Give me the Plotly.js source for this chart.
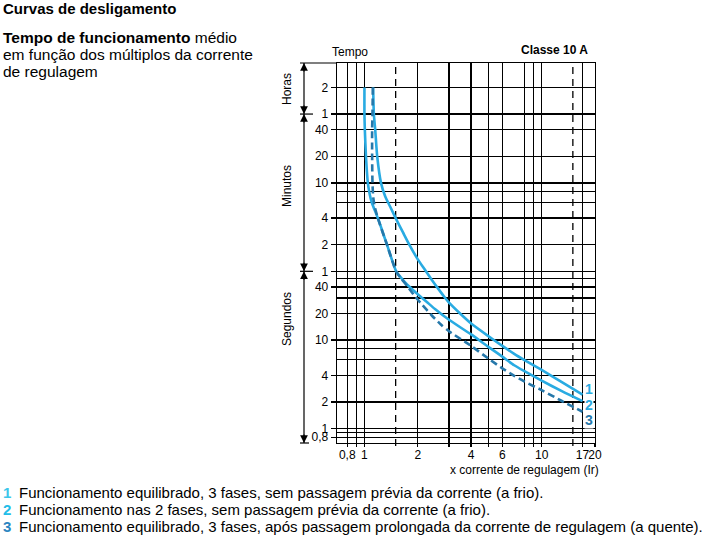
<html>
<head>
<script src="https://cdn.plot.ly/plotly-3.0.1.min.js"></script>
</head>
<body style="margin:0; background:#fff">
<div id="chart" style="width:719px; height:545px"></div>
<script>
// Curve 1: balanced, 3 phases, cold (multiple of Ir, time in seconds)
var x1 = [1.12, 1.13, 1.15, 1.18, 1.24, 1.31, 1.40, 1.50, 1.65, 1.80, 2.0, 2.2, 2.4, 2.6, 2.8, 3.0, 3.5, 4.0, 5.0, 6.0, 7.0, 8.0, 10, 13, 17];
var t1 = [7200, 3600, 2400, 1200, 600, 420, 320, 240, 165, 118, 82, 62, 48, 38.5, 31.5, 26.5, 19.6, 15.4, 11.1, 8.6, 7.0, 5.95, 4.6, 3.35, 2.42];
// Curve 2: 2 phases, cold
var x2 = [1.0, 1.0, 1.005, 1.02, 1.045, 1.07, 1.10, 1.19, 1.34, 1.51, 1.62, 1.75, 2.0, 2.25, 2.5, 3.0, 4.0, 5.0, 6.0, 7.0, 8.0, 10, 13, 17];
var t2 = [7200, 3600, 2400, 1200, 600, 450, 360, 240, 120, 60, 50, 42, 33, 27, 22.5, 17, 11.6, 8.4, 6.5, 5.2, 4.45, 3.48, 2.65, 2.04];
// Curve 3: balanced, 3 phases, hot
var x3 = [1.115, 1.11, 1.105, 1.105, 1.11, 1.12, 1.14, 1.19, 1.34, 1.51, 1.62, 1.75, 1.9, 2.12, 2.4, 2.7, 3.0, 4.0, 5.0, 6.0, 7.0, 8.0, 10, 13, 17];
var t3 = [7200, 3600, 2400, 1200, 600, 420, 330, 240, 120, 60, 49, 40.5, 32.5, 25, 19, 15, 12.6, 8.6, 6.2, 4.8, 3.95, 3.4, 2.72, 2.05, 1.55];

var xTickVals = [0.8, 0.9, 1, 2, 3, 4, 5, 6, 8, 9, 10, 17, 20];
var xTickText = ['0,8', '', '1', '2', '', '4', '', '6', '', '', '10', '17', '20'];
var xDashedGrid = [1.5, 15];
var yTickVals = [7200, 3600, 2400, 1200, 600, 240, 120, 60, 40, 20, 10, 4, 2, 1, 0.8];
var yTickText = ['2', '1', '40', '20', '10', '4', '2', '1', '40', '20', '10', '4', '2', '1', '0,8'];
var yMinorGrid = [480, 360, 50, 30, 8, 6, 0.9];
var unitBounds = [3600, 60];   // hours / minutes / seconds limits

var curveLabels = ['1', '2', '3'];
var introLines = [
  '<b>Tempo de funcionamento</b> médio',
  'em função dos múltiplos da corrente',
  'de regulagem'
];
var legendText = [
  'Funcionamento equilibrado, 3 fases, sem passagem prévia da corrente (a frio).',
  'Funcionamento nas 2 fases, sem passagem prévia da corrente (a frio).',
  'Funcionamento equilibrado, 3 fases, após passagem prolongada da corrente de regulagem (a quente).'
];

var FONT = 'Liberation Sans, Arial, sans-serif';
var BLUE = '#29abe2', DARK = '#2678aa';
var L = 337, T = 63, W = 258, H = 380;
var xr = [Math.log10(0.7), Math.log10(20)];
var yr = [Math.log10(0.687), Math.log10(13600)];

// pixel -> paper helpers for the text placed around the plot
function ax(px) { return (px - L) / W; }
function ay(py) { return (T + H - py) / H; }
function yp(sec) { return (Math.log10(sec) - yr[0]) / (yr[1] - yr[0]); }

var data = [
  {x: x2, y: t2, mode: 'lines', line: {color: BLUE, width: 2.6, shape: 'spline', smoothing: 0.6}},
  {x: x1, y: t1, mode: 'lines', line: {color: BLUE, width: 2.6, shape: 'spline', smoothing: 0.6}},
  {x: x3, y: t3, mode: 'lines', line: {color: DARK, width: 2.6, dash: '7px,4px', shape: 'spline', smoothing: 0.6}}
];

var shapes = [];
xDashedGrid.forEach(function(v) {
  shapes.push({type: 'line', xref: 'x', yref: 'paper', x0: v, x1: v, y0: -0.008, y1: 1,
    layer: 'below', line: {color: '#000', width: 1.3, dash: '7px,5px'}});
});
// bracket on the left: Horas / Minutos / Segundos
var bx = ax(304);
shapes.push({type: 'line', xref: 'paper', yref: 'paper', x0: bx, x1: bx, y0: 0, y1: 1, line: {color: '#000', width: 1.2}});
shapes.push({type: 'line', xref: 'paper', yref: 'paper', x0: ax(300), x1: 0, y0: 1, y1: 1, line: {color: '#000', width: 1.2}});
shapes.push({type: 'line', xref: 'paper', yref: 'paper', x0: ax(300), x1: ax(309), y0: 0, y1: 0, line: {color: '#000', width: 1.2}});
unitBounds.forEach(function(s) {
  shapes.push({type: 'line', xref: 'paper', yref: 'paper', x0: ax(300), x1: ax(313), y0: yp(s), y1: yp(s), line: {color: '#000', width: 1.2}});
});

var annotations = [];
function arrow(y, dir) {
  annotations.push({xref: 'paper', yref: 'paper', x: bx, y: y, ax: 0, ay: dir * 10, text: '',
    showarrow: true, arrowhead: 2, arrowsize: 1.3, arrowwidth: 1.2, arrowcolor: '#000'});
}
arrow(1, 1);
arrow(0, -1);
unitBounds.forEach(function(s) { arrow(yp(s), -1); arrow(yp(s), 1); });

function txt(s, x, y, opts) {
  var a = {xref: 'paper', yref: 'paper', x: x, y: y, text: s, showarrow: false,
    xanchor: 'left', yanchor: 'middle', font: {family: FONT, size: 12, color: '#000'}};
  for (var k in opts) a[k] = opts[k];
  annotations.push(a);
}
txt('<b>Curvas de desligamento</b>', ax(1), ay(8), {font: {family: FONT, size: 15, color: '#000'}});
introLines.forEach(function(s, i) {
  txt(s, ax(1), ay(37 + i * 17.5), {font: {family: FONT, size: 15.5, color: '#000'}});
});
txt('Tempo', ax(330), ay(52));
txt('<b>Classe 10 A</b>', ax(590), ay(50), {xanchor: 'right'});
txt('x corrente de regulagem (Ir)', ax(601), ay(470), {xanchor: 'right'});
txt('Horas', ax(287), ay(89), {xanchor: 'center', textangle: -90});
txt('Minutos', ax(287), ay(186), {xanchor: 'center', textangle: -90});
txt('Segundos', ax(287), ay(319), {xanchor: 'center', textangle: -90});

var labelColors = [BLUE, BLUE, DARK];
var labelY = [389, 404.5, 419.5];
curveLabels.forEach(function(s, i) {
  txt('<b>' + s + '</b>', ax(589), ay(labelY[i]), {xanchor: 'center', bgcolor: '#fff', borderpad: 0,
    font: {family: FONT, size: 14, color: labelColors[i]}});
});

var legendColors = ['#3cc6ea', '#22bde8', '#2b86c1'];
legendText.forEach(function(s, i) {
  var py = 492 + i * 17;
  txt('<b>' + curveLabels[i] + '</b>', ax(1), ay(py), {font: {family: FONT, size: 15, color: legendColors[i]}});
  txt(s, ax(17), ay(py), {font: {family: FONT, size: 15, color: '#000'}});
});

var layout = {
  width: 719, height: 545,
  margin: {l: L, r: 719 - L - W, t: T, b: 545 - T - H},
  paper_bgcolor: '#fff', plot_bgcolor: '#fff',
  showlegend: false, hovermode: false,
  font: {family: FONT, size: 12, color: '#000'},
  xaxis: {
    type: 'log', range: xr, tickmode: 'array', tickvals: xTickVals, ticktext: xTickText,
    tickangle: 0, ticks: 'outside', ticklen: 3, tickwidth: 1.3, tickcolor: '#000',
    ticklabelstandoff: -3,
    showgrid: true, gridcolor: '#000', gridwidth: 1.3,
    showline: true, mirror: true, linecolor: '#000', linewidth: 1.3,
    tickfont: {family: FONT, size: 12, color: '#000'}, zeroline: false
  },
  yaxis: {
    type: 'log', range: yr, tickmode: 'array', tickvals: yTickVals, ticktext: yTickText,
    ticks: 'outside', ticklen: 5, tickwidth: 1.3, tickcolor: '#000',
    showgrid: true, gridcolor: '#000', gridwidth: 1.3,
    minor: {tickmode: 'array', tickvals: yMinorGrid, showgrid: true, gridcolor: '#000', gridwidth: 1.3, ticks: ''},
    showline: true, mirror: true, linecolor: '#000', linewidth: 1.3,
    tickfont: {family: FONT, size: 12, color: '#000'}, zeroline: false
  },
  shapes: shapes,
  annotations: annotations
};

Plotly.newPlot('chart', data, layout, {displayModeBar: false, staticPlot: true});
</script>
</body>
</html>
